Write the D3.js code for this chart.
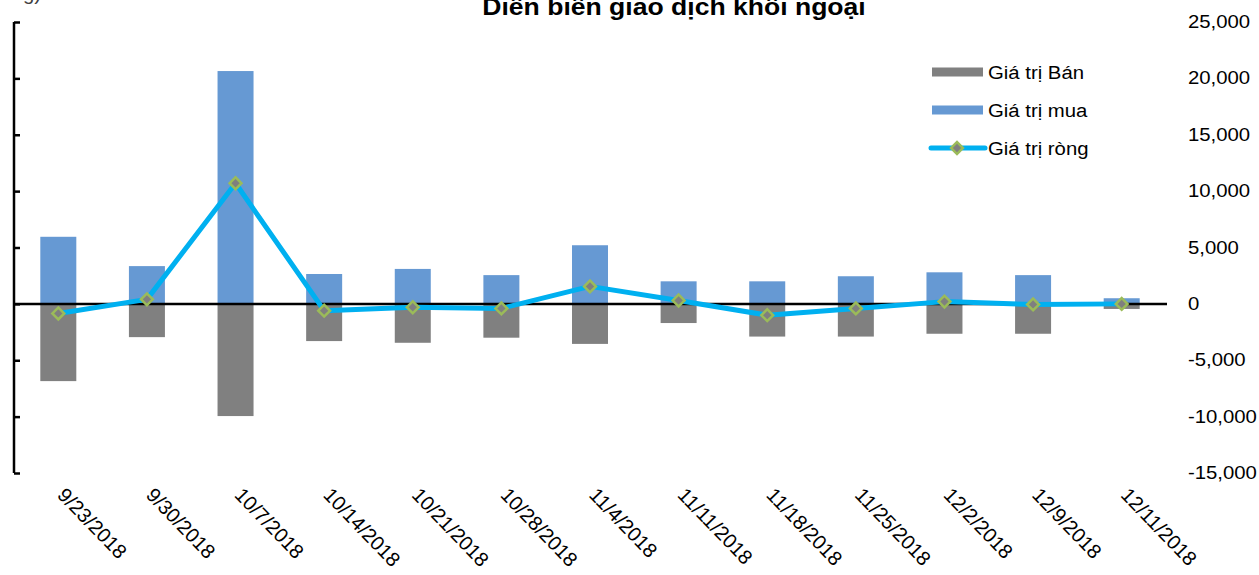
<!DOCTYPE html>
<html lang="vi">
<head>
<meta charset="UTF-8">
<title>Diễn biến giao dịch khối ngoại</title>
<script src="https://d3js.org/d3.v7.min.js"></script>
<style>
  body { margin: 0; background: #fff; }
  svg { display: block; font-family: "Liberation Sans", Arial, sans-serif; }
</style>
</head>
<body>
<svg id="chart"></svg>
<script>
  // weekly foreign trading values (tỷ đồng)
  const weeks = ["9/23/2018", "9/30/2018", "10/7/2018", "10/14/2018", "10/21/2018", "10/28/2018",
                 "11/4/2018", "11/11/2018", "11/18/2018", "11/25/2018", "12/2/2018", "12/9/2018", "12/11/2018"];
  const buyValues  = [5950, 3350, 20650, 2650, 3100, 2550, 5200, 2000, 2000, 2450, 2800, 2550, 500];
  const sellValues = [-6850, -2950, -9950, -3300, -3450, -3000, -3550, -1700, -2900, -2900, -2650, -2650, -450];
  const netValues  = [-850, 400, 10700, -600, -300, -400, 1550, 300, -1000, -400, 200, -50, 0];
  const yTicks = [-15000, -10000, -5000, 0, 5000, 10000, 15000, 20000, 25000];
  const legendLabels = ["Giá trị Bán", "Giá trị mua", "Giá trị ròng"];

  const W = 1259, H = 575;
  const stretch = 1.13; // text in the picture is a bit wider than plain Arial

  const svg = d3.select("#chart").attr("width", W).attr("height", H);

  const x = d3.scaleBand().domain(weeks).range([14, 1166]).padding(0);
  const y = d3.scaleLinear().domain([-15000, 25000]).range([473, 22]);
  const barW = 36;
  const cx = d => x(d) + x.bandwidth() / 2;

  // title (top is cut off in the original)
  svg.append("text")
     .attr("transform", `translate(674,15) scale(${stretch},1)`)
     .attr("text-anchor", "middle")
     .style("font-size", "23.5px")
     .style("font-weight", "bold")
     .text("Diễn biến giao dịch khối ngoại");

  // unit label, mostly outside the picture
  svg.append("text")
     .attr("transform", `translate(41,0) scale(${stretch},1)`)
     .attr("text-anchor", "end")
     .style("font-size", "18px")
     .style("fill", "#404040")
     .text("(Tỷ đồng)");

  // bars
  svg.append("g").selectAll("rect")
     .data(weeks)
     .enter().append("rect")
     .attr("x", d => cx(d) - barW / 2)
     .attr("y", (d, i) => y(buyValues[i]))
     .attr("width", barW)
     .attr("height", (d, i) => y(0) - y(buyValues[i]))
     .attr("fill", "#6699d3");

  svg.append("g").selectAll("rect")
     .data(weeks)
     .enter().append("rect")
     .attr("x", d => cx(d) - barW / 2)
     .attr("y", y(0))
     .attr("width", barW)
     .attr("height", (d, i) => y(sellValues[i]) - y(0))
     .attr("fill", "#808080");

  // left axis: line with inside ticks, labels cut off
  const leftAxis = svg.append("g").attr("transform", "translate(14,0)")
     .call(d3.axisRight(y).tickValues(yTicks).tickSize(6).tickFormat(""));
  leftAxis.select(".domain").attr("d", `M0,${y(25000)}V${y(-15000)}`).attr("stroke", "#000").attr("stroke-width", 2.5);
  leftAxis.selectAll(".tick line").attr("stroke", "#000").attr("stroke-width", 2.5);

  // zero line
  svg.append("line")
     .attr("x1", 14).attr("x2", 1167)
     .attr("y1", y(0)).attr("y2", y(0))
     .attr("stroke", "#000").attr("stroke-width", 2.5);

  // right axis labels
  svg.append("g").selectAll("text")
     .data(yTicks)
     .enter().append("text")
     .attr("transform", d => `translate(1188,${y(d) + 6}) scale(${stretch},1)`)
     .style("font-size", "18px")
     .style("fill", "#000")
     .text(d => d3.format(",")(d).replace("−", "-"));

  // category labels
  svg.append("g").selectAll("text")
     .data(weeks)
     .enter().append("text")
     .attr("transform", d => `translate(${cx(d) - 2},496) rotate(46)`)
     .style("font-size", "20px")
     .text(d => d);

  // net line with diamond markers
  const line = d3.line().x(d => cx(d)).y((d, i) => y(netValues[i]));
  svg.append("path")
     .datum(weeks)
     .attr("d", line)
     .attr("fill", "none")
     .attr("stroke", "#00b0f0")
     .attr("stroke-width", 5)
     .attr("stroke-linejoin", "round");

  const diamond = d3.symbol().type(d3.symbolSquare).size(70);
  svg.append("g").selectAll("path")
     .data(weeks)
     .enter().append("path")
     .attr("d", diamond)
     .attr("transform", (d, i) => `translate(${cx(d)},${y(netValues[i])}) rotate(45)`)
     .attr("fill", "#7f7f7f")
     .attr("stroke", "#9bbb59")
     .attr("stroke-width", 2.5);

  // legend
  const legend = svg.append("g").attr("transform", "translate(932,72)");
  const rowGap = 38;
  legend.append("rect").attr("x", 0).attr("y", -4.5).attr("width", 51).attr("height", 9).attr("fill", "#808080");
  legend.append("rect").attr("x", 0).attr("y", rowGap - 4.5).attr("width", 51).attr("height", 9).attr("fill", "#6699d3");
  legend.append("line")
     .attr("x1", -1).attr("x2", 53).attr("y1", rowGap * 2).attr("y2", rowGap * 2)
     .attr("stroke", "#00b0f0").attr("stroke-width", 5).attr("stroke-linecap", "round");
  legend.append("path")
     .attr("d", diamond)
     .attr("transform", `translate(25,${rowGap * 2}) rotate(45)`)
     .attr("fill", "#7f7f7f").attr("stroke", "#9bbb59").attr("stroke-width", 2.5);
  legend.selectAll("text.lbl")
     .data(legendLabels)
     .enter().append("text")
     .attr("class", "lbl")
     .attr("transform", (d, i) => `translate(56,${i * rowGap + 6.5}) scale(${stretch},1)`)
     .style("font-size", "18px")
     .text(d => d);
</script>
</body>
</html>
